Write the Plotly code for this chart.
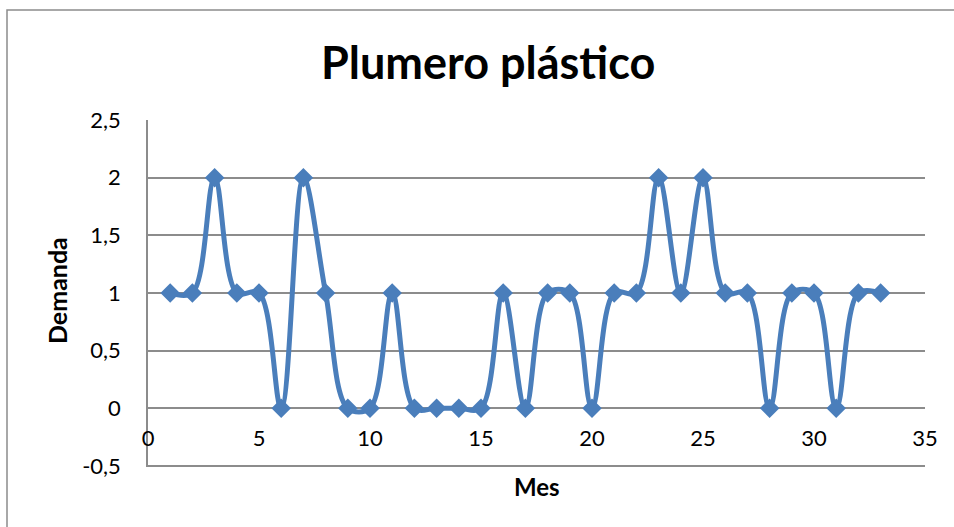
import plotly.graph_objects as go

mes = list(range(1, 34))
demanda = [1, 1, 2, 1, 1, 0, 2, 1, 0, 0, 1, 0, 0, 0, 0, 1, 0, 1, 1, 0,
           1, 1, 2, 1, 2, 1, 1, 0, 1, 1, 0, 1, 1]

y_tickvals = [-0.5, 0, 0.5, 1, 1.5, 2, 2.5]
y_ticktext = ["-0,5", "0", "0,5", "1", "1,5", "2", "2,5"]
x_tickvals = [0, 5, 10, 15, 20, 25, 30, 35]

title_text = "Plumero plástico"
x_title = "Mes"
y_title = "Demanda"

blue = "#4A7EBB"
grid = "#8C8C8C"
font = "Lato"

W, H = 954, 527
L, R, T, B = 148, 29, 120, 60
pw, ph = W - L - R, H - T - B
y_lo, y_hi = -0.51, 2.5


def px_x(v):
    return (v - L) / pw


def px_y(v):
    return (H - B - v) / ph


fig = go.Figure()
# lowest horizontal gridline (value-axis minimum) spanning the category axis
fig.add_trace(go.Scatter(
    x=[x_tickvals[0], x_tickvals[-1]], y=[y_tickvals[0], y_tickvals[0]],
    mode="lines", line=dict(color=grid, width=1.5), hoverinfo="skip",
    showlegend=False,
))
fig.add_trace(go.Scatter(
    x=mes, y=demanda, mode="lines+markers",
    line=dict(color=blue, width=5, shape="spline", smoothing=1.0),
    marker=dict(symbol="diamond", size=15, color=blue),
    showlegend=False,
))

fig.update_layout(
    width=W, height=H,
    margin=dict(l=L, r=R, t=T, b=B),
    paper_bgcolor="white", plot_bgcolor="white",
    font=dict(family=font, color="black", size=22),
    xaxis=dict(range=[0, 35], tickvals=x_tickvals, showgrid=False,
               zeroline=False, showline=False, ticks="",
               anchor="free", position=(0 - y_lo) / (y_hi - y_lo),
               ticklabelstandoff=15, tickfont=dict(size=22)),
    yaxis=dict(range=[y_lo, y_hi], tickvals=y_tickvals, ticktext=y_ticktext,
               showgrid=True, gridcolor=grid, gridwidth=1.5,
               zeroline=False, showline=True, linecolor=grid, linewidth=1.5,
               ticks="", ticklabelstandoff=21, tickfont=dict(size=22)),
    annotations=[
        dict(text="<b>" + title_text + "</b>", x=px_x(488), xref="paper",
             y=px_y(62), yref="paper", xanchor="center", yanchor="middle",
             showarrow=False, font=dict(family=font, size=45)),
        dict(text="<b>" + x_title + "</b>", x=px_x(537), xref="paper",
             y=px_y(487), yref="paper", yanchor="middle", showarrow=False,
             font=dict(family=font, size=24)),
        dict(text="<b>" + y_title + "</b>", x=px_x(57), y=px_y(291),
             xref="paper", yref="paper", xanchor="center", yanchor="middle",
             textangle=-90, showarrow=False,
             font=dict(family=font, size=25)),
    ],
)

# outer chart border
fig.add_shape(type="rect", xref="paper", yref="paper",
              x0=px_x(7), x1=px_x(960), y0=px_y(540), y1=px_y(10),
              line=dict(color=grid, width=1.5), fillcolor="rgba(0,0,0,0)",
              layer="below")

fig.write_html("out.html", config={"displayModeBar": False},
               post_script="document.body.style.margin='0';")
